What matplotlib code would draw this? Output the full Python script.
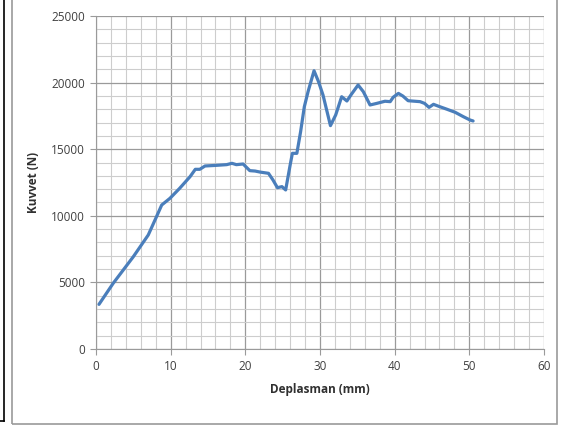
import numpy as np
import matplotlib.pyplot as plt
from matplotlib.lines import Line2D
from matplotlib.patches import Rectangle

# Displacement (mm) and force (N)
deplasman = [0.4, 2.3, 5.0, 7.0, 8.1, 8.8, 9.9, 11.2, 12.6, 13.3, 13.9, 14.6,
             16.2, 17.5, 18.2, 18.8, 19.7, 20.6, 21.3, 22.0, 23.1, 23.7, 24.3,
             24.9, 25.4, 26.0, 26.3, 26.9, 27.4, 27.9, 28.4, 29.2, 29.8, 30.4,
             31.4, 32.1, 32.9, 33.6, 34.2, 35.1, 35.8, 36.7, 37.6, 38.7, 39.4,
             39.8, 40.5, 41.1, 41.8, 43.4, 44.0, 44.6, 45.2, 45.8, 46.9, 48.1,
             49.2, 50.1, 50.5]
kuvvet = [3350, 4930, 6930, 8560, 9930, 10810, 11310, 12060, 12940, 13490,
          13490, 13740, 13790, 13840, 13940, 13840, 13890, 13390, 13360, 13280,
          13190, 12690, 12110, 12190, 11940, 13810, 14690, 14690, 16310, 18190,
          19320, 20890, 20070, 19070, 16770, 17570, 18940, 18620, 19120, 19820,
          19320, 18320, 18440, 18600, 18570, 18900, 19190, 18990, 18640, 18570,
          18440, 18140, 18370, 18240, 18020, 17770, 17440, 17190, 17120]

x_ticks = [0, 10, 20, 30, 40, 50, 60]
y_ticks = [0, 5000, 10000, 15000, 20000, 25000]

plt.rcParams['font.family'] = ['Open Sans', 'DejaVu Sans']

fig = plt.figure(figsize=(5.63, 4.28), dpi=100)
ax = fig.add_axes([0.1705, 0.1846, 0.7958, 0.778])

# outer chart frame and the black line at the far left
fig.add_artist(Rectangle((12 / 563, 4 / 428), 545 / 563, 430 / 428,
                         transform=fig.transFigure, fill=False,
                         edgecolor='#9a9a9a', linewidth=1.2))
fig.add_artist(Line2D([4 / 563, 4 / 563], [7 / 428, 1.0],
                      transform=fig.transFigure, color='black', linewidth=1.2))
fig.add_artist(Line2D([0, 4 / 563], [7 / 428, 7 / 428],
                      transform=fig.transFigure, color='black', linewidth=1.2))

ax.plot(deplasman, kuvvet, color='#4a7ebb', linewidth=2.3,
        solid_capstyle='round', solid_joinstyle='round', zorder=3)

ax.set_xlim(0, 60)
ax.set_ylim(0, 25000)
ax.set_xticks(x_ticks)
ax.set_yticks(y_ticks)
ax.set_xticks(np.arange(0, 61, 2), minor=True)
ax.set_yticks(np.arange(0, 25001, 1000), minor=True)
ax.grid(which='major', color='#9a9a9a', linewidth=0.9)
ax.grid(which='minor', color='#cdcdcd', linewidth=0.8)
ax.set_axisbelow(True)

for side in ['top', 'right']:
    ax.spines[side].set_visible(False)
for side in ['left', 'bottom']:
    ax.spines[side].set_color('#9a9a9a')
ax.tick_params(which='major', length=4, color='#9a9a9a', labelsize=8.5,
               labelcolor='#404040', pad=4)
ax.tick_params(which='minor', length=0)

ax.set_xlabel('Deplasman (mm)', fontsize=8.5, fontweight='bold',
              color='#303030', labelpad=7)
ax.set_ylabel('Kuvvet (N)', fontsize=8.5, fontweight='bold',
              color='#303030', labelpad=8)

fig.savefig('out.png', dpi=100)
